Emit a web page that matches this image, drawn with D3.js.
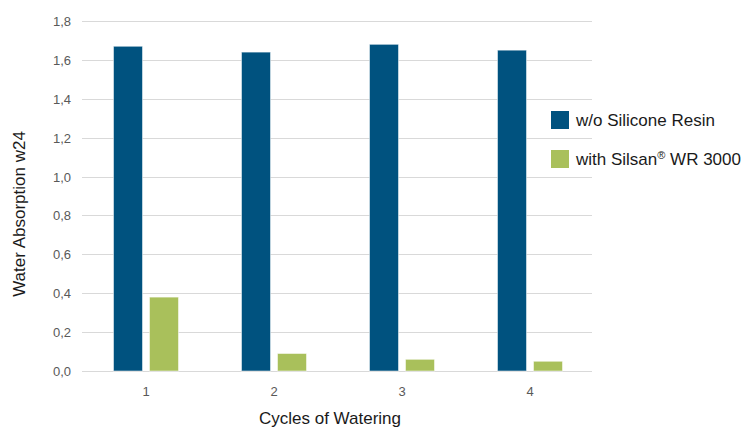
<!DOCTYPE html>
<html>
<head>
<meta charset="utf-8">
<script src="https://cdn.jsdelivr.net/npm/d3@7"></script>
<style>
  body { margin: 0; background: #fff; }
  svg { display: block; font-family: "Liberation Sans", Arial, sans-serif; }
</style>
</head>
<body>
<div id="chart"></div>
<script>
// data
const cycles = ['1', '2', '3', '4'];
const withoutResin = [1.67, 1.64, 1.68, 1.65];
const withSilsan = [0.38, 0.09, 0.06, 0.05];
const yTicks = [0, 0.2, 0.4, 0.6, 0.8, 1.0, 1.2, 1.4, 1.6, 1.8];
const seriesNames = ['w/o Silicone Resin', 'with Silsan'];
const seriesColors = ['#00527f', '#a9c05b'];

const width = 754, height = 429;
const margin = { top: 21, right: 160, bottom: 58, left: 82 };
const groupWidth = 65;

const svg = d3.select('#chart').append('svg')
  .attr('width', width)
  .attr('height', height);

const x = d3.scaleBand().domain(cycles).range([margin.left, 594]);
const inner = d3.scaleBand().domain([0, 1]).range([0, groupWidth]).paddingInner(7 / 36);
const y = d3.scaleLinear().domain([0, 1.8]).range([height - margin.bottom, margin.top]);

// gridlines
svg.append('g')
  .selectAll('line')
  .data(yTicks)
  .join('line')
  .attr('x1', margin.left)
  .attr('x2', 592)
  .attr('y1', d => Math.round(y(d)) + 0.5)
  .attr('y2', d => Math.round(y(d)) + 0.5)
  .attr('stroke', '#d9d9d9')
  .attr('stroke-width', 1);

// y tick labels
const fmt = d => d.toFixed(1).replace('.', ',');
svg.append('g')
  .selectAll('text')
  .data(yTicks)
  .join('text')
  .attr('x', 71)
  .attr('y', d => y(d) + 5)
  .attr('text-anchor', 'end')
  .attr('font-size', 13)
  .attr('fill', '#595959')
  .text(fmt);

// bars
const rows = cycles.map((c, i) => ({ c, vals: [withoutResin[i], withSilsan[i]] }));
const groups = svg.append('g')
  .selectAll('g')
  .data(rows)
  .join('g')
  .attr('transform', d => `translate(${x(d.c) + (x.bandwidth() - groupWidth) / 2},0)`);

groups.selectAll('rect')
  .data(d => d.vals.map((v, k) => ({ v, k })))
  .join('rect')
  .attr('x', d => inner(d.k))
  .attr('y', d => y(d.v))
  .attr('width', inner.bandwidth())
  .attr('height', d => y(0) - y(d.v))
  .attr('fill', d => seriesColors[d.k])
  .attr('stroke', '#ffffff')
  .attr('stroke-opacity', 0.5)
  .attr('stroke-width', 1);

// x tick labels
svg.append('g')
  .selectAll('text')
  .data(cycles)
  .join('text')
  .attr('x', d => x(d) + x.bandwidth() / 2)
  .attr('y', 396)
  .attr('text-anchor', 'middle')
  .attr('font-size', 13)
  .attr('fill', '#595959')
  .text(d => d);

// axis titles
svg.append('text')
  .attr('x', 330)
  .attr('y', 424)
  .attr('text-anchor', 'middle')
  .attr('font-size', 17)
  .attr('fill', '#1a1a1a')
  .text('Cycles of Watering');

svg.append('text')
  .attr('transform', 'translate(25,214) rotate(-90)')
  .attr('text-anchor', 'middle')
  .attr('font-size', 17)
  .attr('fill', '#1a1a1a')
  .text('Water Absorption w24');

// legend
const legend = svg.append('g');
seriesNames.forEach((name, i) => {
  const ly = 111 + i * 39;
  legend.append('rect')
    .attr('x', 551).attr('y', ly)
    .attr('width', 18).attr('height', 18)
    .attr('fill', seriesColors[i]);
  const t = legend.append('text')
    .attr('x', 576).attr('y', ly + 15)
    .attr('font-size', 17)
    .attr('fill', '#1a1a1a')
    .text(name);
  if (i === 1) {
    t.append('tspan').attr('baseline-shift', 'super').attr('font-size', 11).text('®');
    t.append('tspan').text(' WR 3000');
  }
});
</script>
</body>
</html>
